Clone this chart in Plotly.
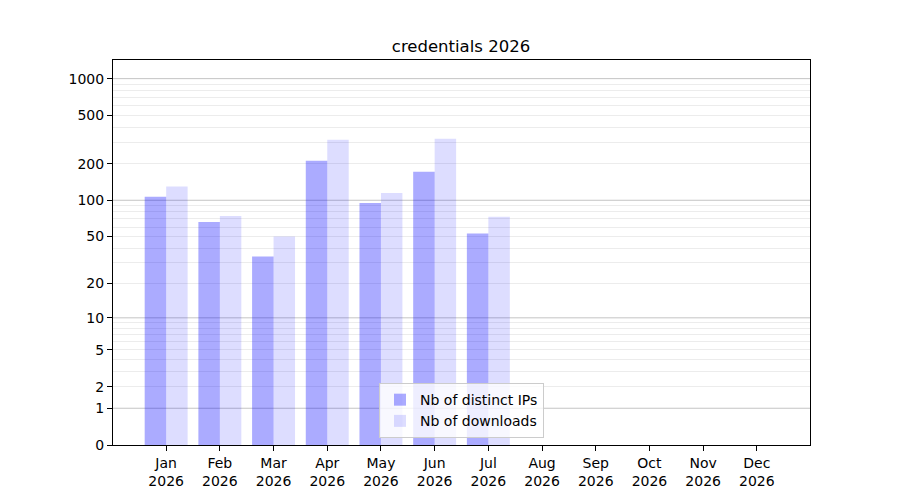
import numpy as np
import plotly.graph_objects as go

MONTHS = ["Jan", "Feb", "Mar", "Apr", "May", "Jun", "Jul", "Aug", "Sep", "Oct", "Nov", "Dec"]
YEAR = "2026"
NB_IPS = [107, 66, 34, 212, 95, 172, 53]
NB_DOWNLOADS = [130, 74, 50, 315, 115, 321, 73]
Y_TICKS = [0, 1, 2, 5, 10, 20, 50, 100, 200, 500, 1000]


def symlog(v):
    # the y axis is log10(1 + n)
    return np.log10(1 + np.asarray(v, dtype=float))


decades = [1, 10, 100, 1000]
minor_vals = [d * k for d in [1, 10, 100] for k in range(2, 10)]

fig = go.Figure()
fig.add_trace(go.Bar(x=list(range(len(NB_IPS))), y=symlog(NB_IPS),
                     width=0.4, offset=-0.4, name='Nb of distinct IPs',
                     marker=dict(color='rgba(0,0,255,0.33)', line=dict(width=0))))
fig.add_trace(go.Bar(x=list(range(len(NB_DOWNLOADS))), y=symlog(NB_DOWNLOADS),
                     width=0.4, offset=0, name='Nb of downloads',
                     marker=dict(color='rgba(0,0,255,0.135)', line=dict(width=0))))

# darker grid lines at each decade
for d in decades:
    fig.add_shape(type='line', xref='paper', x0=0, x1=1, yref='y',
                  y0=float(symlog(d)), y1=float(symlog(d)),
                  line=dict(color='#c4c4c4', width=1), layer='below')

# the page puts the figure 8px in from the top-left corner
fig.update_layout(
    width=900, height=500,
    plot_bgcolor='white', paper_bgcolor='white',
    font=dict(family='DejaVu Sans', size=14, color='black'),
    barmode='overlay',
    margin=dict(l=105, r=98, t=52, b=63),
    title=dict(text='credentials ' + YEAR, x=453 / 900, xanchor='center',
               y=1 - 38 / 500, yanchor='middle', yref='container',
               font=dict(size=16.5)),
    xaxis=dict(
        range=[-0.99, 11.99],
        tickvals=list(range(len(MONTHS))),
        ticktext=[m + '<br>' + YEAR for m in MONTHS],
        ticks='outside', ticklen=5, tickcolor='black',
        showline=True, linecolor='black', mirror=True,
        showgrid=False, zeroline=False,
    ),
    yaxis=dict(
        range=[0, 3.153],
        tickvals=list(symlog(Y_TICKS)),
        ticktext=[str(t) for t in Y_TICKS],
        ticks='outside', ticklen=5, tickcolor='black',
        showline=True, linecolor='black', mirror=True,
        showgrid=False, zeroline=False,
        minor=dict(tickvals=list(symlog(minor_vals)), showgrid=True,
                   gridcolor='#ececec', gridwidth=1, ticks=''),
    ),
    legend=dict(x=0.5, xanchor='center', y=0.018, yanchor='bottom',
                bgcolor='rgba(255,255,255,0.8)', bordercolor='#cccccc',
                borderwidth=1, font=dict(size=14), traceorder='normal'),
    showlegend=True,
)

fig.write_html("out.html")
